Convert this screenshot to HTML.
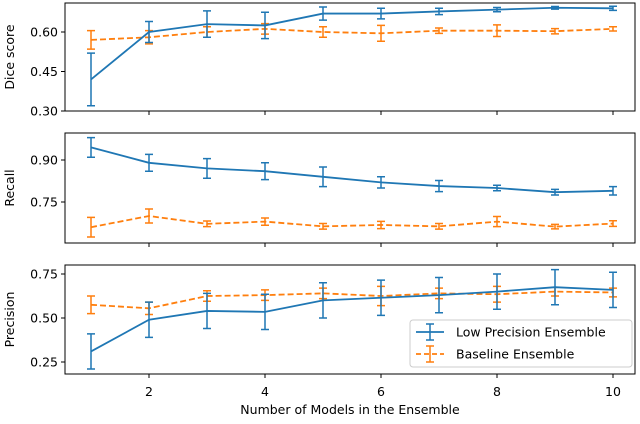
<!DOCTYPE html>
<html><head><meta charset="utf-8"><style>body{margin:0;background:#fff}svg{font-family:"DejaVu Sans","Liberation Sans",sans-serif}</style></head>
<body>
<svg id="c" width="640" height="419" xmlns="http://www.w3.org/2000/svg"></svg>
<script>
const xs=[1,2,3,4,5,6,7,8,9,10];
const diceLow=[0.42,0.60,0.63,0.625,0.67,0.67,0.678,0.685,0.692,0.69];
const diceLowErr=[0.10,0.04,0.05,0.05,0.025,0.02,0.012,0.008,0.005,0.008];
const diceBase=[0.57,0.58,0.60,0.612,0.60,0.595,0.605,0.605,0.603,0.612];
const diceBaseErr=[0.035,0.025,0.02,0.02,0.02,0.03,0.01,0.022,0.01,0.008];
const recLow=[0.945,0.89,0.87,0.86,0.84,0.82,0.807,0.80,0.785,0.79];
const recLowErr=[0.035,0.03,0.035,0.03,0.035,0.02,0.02,0.01,0.01,0.015];
const recBase=[0.66,0.70,0.672,0.68,0.663,0.668,0.663,0.68,0.662,0.673];
const recBaseErr=[0.035,0.025,0.01,0.013,0.01,0.013,0.01,0.018,0.008,0.01];
const precLow=[0.31,0.49,0.54,0.535,0.60,0.615,0.63,0.65,0.675,0.66];
const precLowErr=[0.10,0.10,0.10,0.10,0.10,0.10,0.10,0.10,0.10,0.10];
const precBase=[0.575,0.555,0.625,0.63,0.64,0.625,0.64,0.635,0.65,0.645];
const precBaseErr=[0.05,0.035,0.03,0.03,0.03,0.055,0.03,0.045,0.025,0.025];
const xTicks=[2,4,6,8,10];
const diceTicks=[0.30,0.45,0.60],recTicks=[0.75,0.90],precTicks=[0.25,0.50,0.75];

const svg=document.getElementById('c');const NS='http://www.w3.org/2000/svg';
function el(t,a,p){const e=document.createElementNS(NS,t);for(const k in a)e.setAttribute(k,a[k]);(p||svg).appendChild(e);return e;}
const L=65,R=635;
const X=v=>149+(v-2)*58;
function panel(name,top,bot,v0,y0,v1,y1,ticks,label,low,lowE,base,baseE,last){
  const Y=v=>y0+(v-v0)*(y1-y0)/(v1-v0);
  const g=el('g',{});
  
  
  ticks.forEach(t=>{const y=Y(t);el('line',{x1:L-4,x2:L,y1:y,y2:y,stroke:'#000'},g);
    const tx=el('text',{x:L-7,y:y+4.5,'text-anchor':'end','font-size':12.5},g);tx.textContent=t.toFixed(2);
    });
  xTicks.forEach(t=>{el('line',{x1:X(t),x2:X(t),y1:bot,y2:bot+4,stroke:'#000'},g);
    if(last){const tx=el('text',{x:X(t),y:bot+22,'text-anchor':'middle','font-size':12.5},g);tx.textContent=t;
    }});
  const yl=el('text',{transform:`translate(14,${(top+bot)/2}) rotate(-90)`,'text-anchor':'middle','font-size':12.5},g);yl.textContent=label;
  
  [[base,baseE,'#ff7f0e','6,3'],[low,lowE,'#1f77b4','']].forEach(([v,e,c,d])=>{
    xs.forEach((x,i)=>{const px=X(x),a=Y(v[i]-e[i]),b=Y(v[i]+e[i]);
      const eb=el('path',{d:`M${px},${a}V${b}M${px-4},${a}h8M${px-4},${b}h8`,stroke:c,'stroke-width':1.5,fill:'none'},g);
      });
    const ln=el('polyline',{points:xs.map((x,i)=>X(x)+','+Y(v[i])).join(' '),stroke:c,'stroke-width':1.8,fill:'none','stroke-dasharray':d},g);
    
  });
  el('rect',{x:L,y:top,width:R-L,height:bot-top,fill:'none',stroke:'#000','stroke-width':1},g);
}
panel('dice',3,111,0.30,111,0.60,32,diceTicks,'Dice score',diceLow,diceLowErr,diceBase,diceBaseErr,false);
panel('recall',133,243,0.75,202,0.90,160,recTicks,'Recall',recLow,recLowErr,recBase,recBaseErr,false);
panel('precision',265,374,0.25,362,0.75,274,precTicks,'Precision',precLow,precLowErr,precBase,precBaseErr,true);
const xt=el('text',{x:350,y:414,'text-anchor':'middle','font-size':12.5});xt.textContent='Number of Models in the Ensemble';

const lg=el('g',{});


el('rect',{x:410,y:320,width:222,height:47,rx:3,fill:'#fff','fill-opacity':0.85,stroke:'#ccc'},lg);
[['Low Precision Ensemble','#1f77b4','',332],['Baseline Ensemble','#ff7f0e','5,3',354]].forEach(([t,c,d,y])=>{
  const en=el('g',{},lg);
  
  
  el('line',{x1:416,x2:444,y1:y,y2:y,stroke:c,'stroke-width':1.8,'stroke-dasharray':d},en);
  el('path',{d:`M430,${y-8}V${y+8}M426,${y-8}h8M426,${y+8}h8`,stroke:c,'stroke-width':1.5},en);
  const tx=el('text',{x:456,y:y+4.5,'font-size':12.5},en);tx.textContent=t;
});
</script>
</body></html>
